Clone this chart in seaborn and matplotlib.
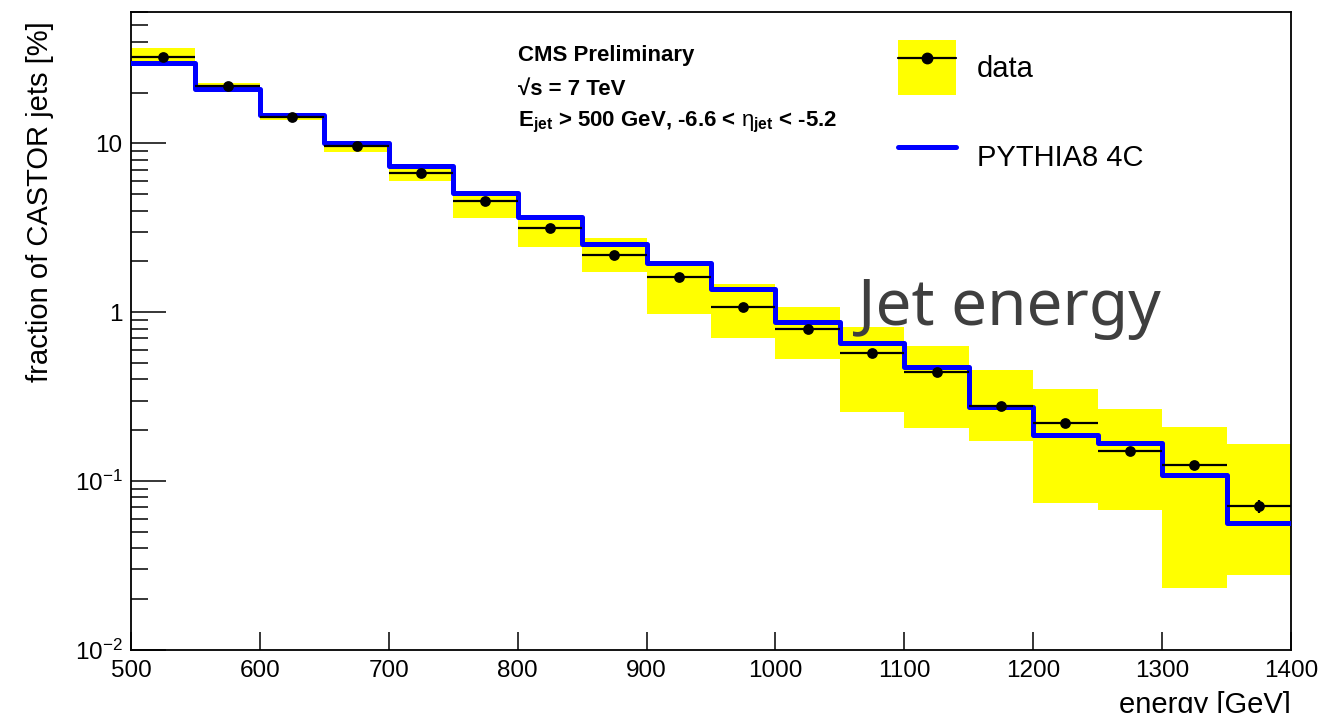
import numpy as np
import pandas as pd
import matplotlib
matplotlib.use("Agg")
import matplotlib.pyplot as plt
import seaborn as sns
from matplotlib.patches import Patch
from matplotlib.lines import Line2D
from matplotlib.ticker import FixedLocator, FixedFormatter, NullLocator, LogLocator

# ---------------- data ----------------
bin_low = [500, 550, 600, 650, 700, 750, 800, 850, 900, 950,
           1000, 1050, 1100, 1150, 1200, 1250, 1300, 1350]
bin_width = 50
data_vals = [32.5, 21.8, 14.3, 9.6, 6.70, 4.56, 3.14, 2.19, 1.62, 1.07,
             0.80, 0.577, 0.443, 0.279, 0.221, 0.151, 0.124, 0.0711]
stat_err = [0, 0, 0, 0, 0, 0, 0, 0, 0, 0,
            0, 0, 0, 0, 0, 0, 0.003, 0.006]
sys_low = [29.5, 20.2, 13.8, 8.9, 6.0, 3.6, 2.43, 1.72, 0.98, 0.70,
           0.527, 0.256, 0.206, 0.172, 0.0738, 0.0673, 0.0232, 0.0278]
sys_high = [36.7, 22.7, 15.1, 10.3, 7.3, 5.1, 3.7, 2.77, 1.97, 1.48,
            1.07, 0.82, 0.632, 0.454, 0.35, 0.269, 0.208, 0.167]
mc_vals = [30.1, 21.1, 14.7, 10.1, 7.3, 5.11, 3.68, 2.52, 1.97, 1.37,
           0.88, 0.656, 0.476, 0.276, 0.188, 0.168, 0.108, 0.0564]

y_tick_vals = [0.01, 0.1, 1, 10]
y_tick_labels = [r"$\mathregular{10^{-2}}$", r"$\mathregular{10^{-1}}$", "1", "10"]
x_tick_vals = [500, 600, 700, 800, 900, 1000, 1100, 1200, 1300, 1400]

# ---------------- style ----------------
sns.set_style("white")
plt.rcParams["font.family"] = ["Liberation Sans", "DejaVu Sans"]
plt.rcParams["mathtext.fontset"] = "custom"
plt.rcParams["mathtext.rm"] = "Liberation Sans"
plt.rcParams["mathtext.it"] = "Liberation Sans:italic"
plt.rcParams["mathtext.bf"] = "Liberation Sans:bold"
for k in ["text.color", "axes.labelcolor", "xtick.color", "ytick.color", "axes.edgecolor"]:
    plt.rcParams[k] = "black"

df = pd.DataFrame({
    "low": bin_low,
    "center": np.array(bin_low) + bin_width / 2,
    "data": data_vals,
    "stat": stat_err,
    "slo": sys_low,
    "shi": sys_high,
    "mc": mc_vals,
})

fig = plt.figure(figsize=(13.42, 7.13), dpi=100)
ax = fig.add_axes([131 / 1342, 1 - 650 / 713, (1291 - 131) / 1342, (650 - 12) / 713])

# systematic band
ax.bar(df["low"], df["shi"] - df["slo"], bottom=df["slo"], width=bin_width,
       align="edge", color="#ffff00", edgecolor="none", zorder=1)

# MC step line
edges = list(df["low"]) + [df["low"].iloc[-1] + bin_width]
mc_step = list(df["mc"]) + [df["mc"].iloc[-1]]
step_df = pd.DataFrame({"x": edges, "y": mc_step})
sns.lineplot(data=step_df, x="x", y="y", drawstyle="steps-post", color="#0000ff",
             linewidth=3.6, ax=ax, zorder=3, estimator=None, sort=False)

# data points with horizontal bin-width bars
ax.errorbar(df["center"], df["data"], xerr=bin_width / 2, yerr=df["stat"],
            fmt="none", ecolor="black", elinewidth=1.6, capsize=0, zorder=4)
sns.scatterplot(data=df, x="center", y="data", color="black", s=60,
                edgecolor="black", linewidth=0, ax=ax, zorder=5)

ax.set_yscale("log")
ax.set_xlim(500, 1400)
ax.set_ylim(0.01, 60)

ax.yaxis.set_major_locator(FixedLocator(y_tick_vals))
ax.yaxis.set_major_formatter(FixedFormatter(y_tick_labels))
ax.yaxis.set_minor_locator(LogLocator(base=10, subs=np.arange(2, 10)))
ax.xaxis.set_major_locator(FixedLocator(x_tick_vals))
ax.xaxis.set_minor_locator(NullLocator())

ax.tick_params(axis="y", which="major", direction="in", length=25, width=1.1,
               labelsize=17.5, pad=6, left=True, right=False)
ax.tick_params(axis="y", which="minor", direction="in", length=12.5, width=1.1,
               left=True, right=False)
ax.tick_params(axis="x", which="major", direction="in", length=13, width=1.1,
               labelsize=17.5, pad=7, bottom=True, top=False)
for sp in ax.spines.values():
    sp.set_visible(True)
    sp.set_color("black")
    sp.set_linewidth(1.3)

ax.set_xlabel("")
ax.set_ylabel("")

fig.text(40 / 1342, 1 - 202 / 713, "fraction of CASTOR jets [%]", rotation=90,
         fontsize=21, ha="center", va="center")
fig.text(1291 / 1342, 1 - 713 / 713, "energy [GeV]", fontsize=21,
         ha="right", va="baseline")

# CMS labels
fig.text(518 / 1342, 1 - 56 / 713, "CMS Preliminary", fontsize=16,
         fontweight="bold", ha="left", va="center")
fig.text(518 / 1342, 1 - 89 / 713, "\u221As = 7 TeV", fontsize=16,
         fontweight="bold", ha="left", va="center")
fig.text(518 / 1342, 1 - 122 / 713,
         r"E$_{\mathbf{jet}}$ > 500 GeV, -6.6 < $\mathrm{\eta}_{\mathbf{jet}}$ < -5.2",
         fontsize=16, fontweight="bold", ha="left", va="center")

# overlay annotation
fig.text(858 / 1342, 1 - 325 / 713, "Jet energy", fontsize=46,
         color="#3f3f3f", ha="left", va="baseline",
         family=["Noto Sans", "DejaVu Sans"])

# legend
h_data = (Patch(facecolor="#ffff00", edgecolor="none"),
          Line2D([], [], color="black", linewidth=1.6, marker="o", markersize=7.5))
h_mc = Line2D([], [], color="#0000ff", linewidth=3.6)
fig.legend([h_data, h_mc], ["data", "PYTHIA8 4C"], loc="upper left",
           bbox_to_anchor=(898 / 1342, 1 - 40 / 713), frameon=False,
           fontsize=21, handlelength=2.0, handleheight=2.55,
           handletextpad=0.7, labelspacing=1.15, borderpad=0,
           borderaxespad=0, numpoints=1)

fig.savefig("out.png", dpi=100, facecolor="white")
